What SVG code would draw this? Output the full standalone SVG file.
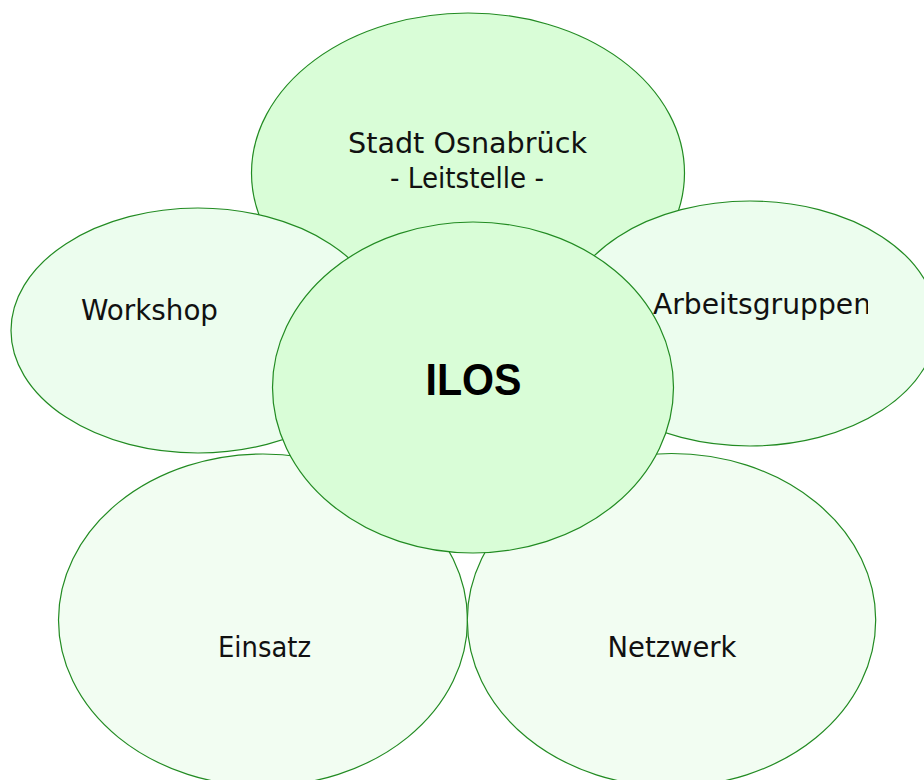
<svg xmlns="http://www.w3.org/2000/svg" width="924" height="780" viewBox="0 0 924 780">
<style>
.e{stroke:#228b22;stroke-width:1.2}
.c{fill:#d9fdd7}
.s{fill:#ecfdee}
.b{fill:#f2fdf2}
.t{font-family:"DejaVu Sans","Liberation Sans",sans-serif;font-size:28px;fill:#111;text-anchor:middle}
.h{font-family:"Liberation Sans","DejaVu Sans",sans-serif;font-size:45px;font-weight:bold;fill:#000;text-anchor:middle}
</style>
<defs>
<clipPath id="clipAG"><rect x="600" y="270" width="268" height="70"/></clipPath>
</defs>
<rect width="924" height="780" fill="#fff"/>
<g id="leitstelle">
<ellipse class="e c" cx="468" cy="173" rx="216.5" ry="160"/>
<text class="t" x="467.5" y="153" textLength="239" lengthAdjust="spacingAndGlyphs">Stadt Osnabrück</text>
<text class="t" x="467" y="188" textLength="154" lengthAdjust="spacingAndGlyphs">- Leitstelle -</text>
</g>
<g id="workshop">
<ellipse class="e s" cx="198" cy="330.5" rx="187" ry="122.5"/>
<text class="t" x="149.5" y="320" textLength="137" lengthAdjust="spacingAndGlyphs">Workshop</text>
</g>
<g id="arbeitsgruppen">
<ellipse class="e s" cx="750" cy="323.5" rx="187" ry="122.5"/>
<text class="t" x="653" y="314" style="text-anchor:start" textLength="218" lengthAdjust="spacingAndGlyphs" clip-path="url(#clipAG)">Arbeitsgruppen</text>
</g>
<g id="einsatz">
<ellipse class="e b" cx="263" cy="620" rx="204.5" ry="166"/>
<text class="t" x="264.5" y="657" textLength="93" lengthAdjust="spacingAndGlyphs">Einsatz</text>
</g>
<g id="netzwerk">
<ellipse class="e b" cx="671.5" cy="620" rx="204.2" ry="166.5"/>
<text class="t" x="672" y="657" textLength="129" lengthAdjust="spacingAndGlyphs">Netzwerk</text>
</g>
<g id="ilos">
<ellipse class="e c" cx="473" cy="387.5" rx="200.5" ry="165.5"/>
<text class="h" x="473.5" y="395" textLength="96" lengthAdjust="spacingAndGlyphs">ILOS</text>
</g>
<g id="connectors"/>
</svg>
